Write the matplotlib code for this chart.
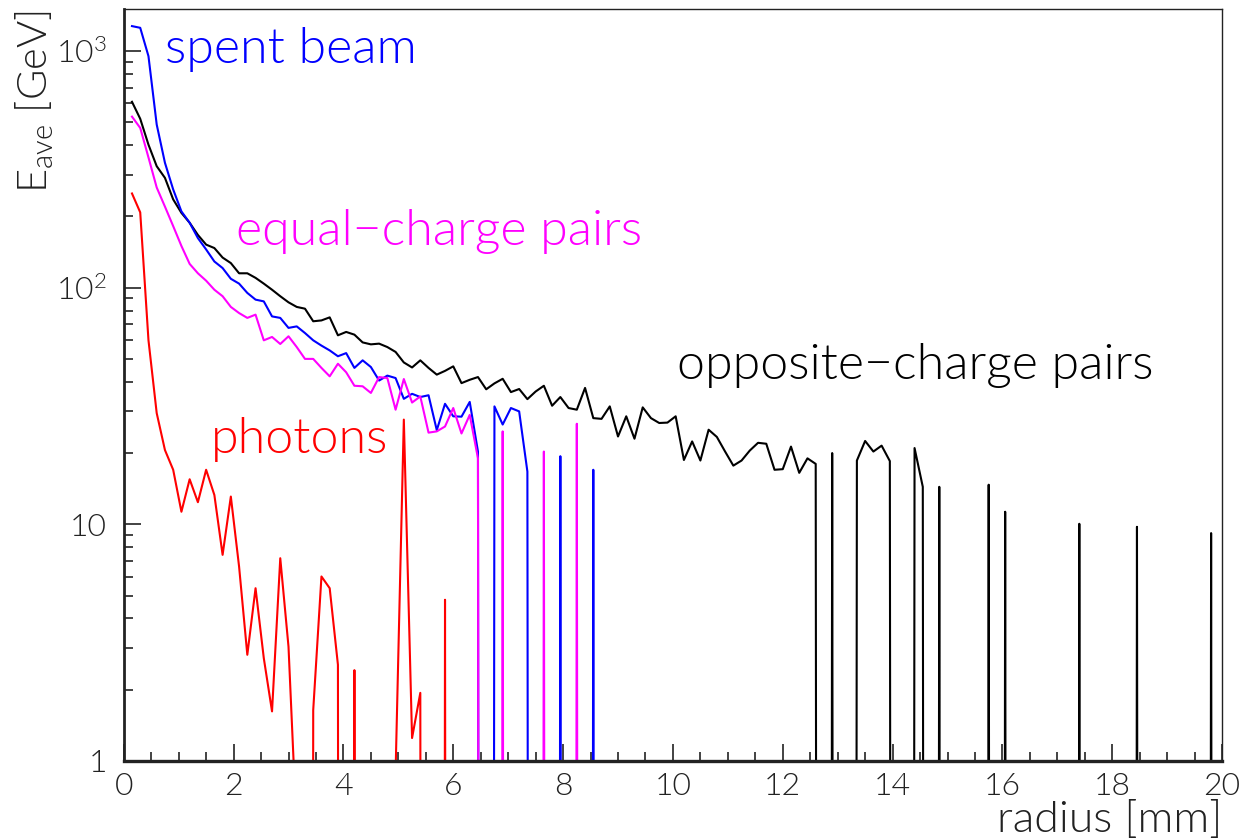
import numpy as np
import matplotlib
matplotlib.use("Agg")
import matplotlib.pyplot as plt
from matplotlib.ticker import FixedLocator, FixedFormatter, NullFormatter

# bin width of the radius histogram [mm], first bin centre at 0.15
bin_width = 0.15

# average energy per radius bin [GeV], 0 = empty bin
opposite_pairs = [610, 517, 402, 326, 291, 236, 207, 188, 167, 152,
                  147, 134, 127, 115, 115, 110, 104, 98, 92, 86.7,
                  82.9, 81.5, 72.1, 72.7, 74.9, 62.9, 65.0, 63.3, 58.7, 57.6,
                  58.0, 56.1, 53.5, 48.3, 46.0, 49.3, 45.8, 42.9, 44.5, 46.5,
                  39.5, 40.8, 41.9, 37.2, 39.4, 41.2, 36.2, 37.3, 33.8, 36.4,
                  38.5, 31.7, 34.5, 31.0, 30.5, 37.7, 28.1, 27.9, 31.5, 23.5,
                  28.6, 23.0, 31.2, 28.1, 26.8, 26.9, 28.6, 18.7, 22.4, 18.6,
                  25.1, 23.4, 20.3, 17.7, 18.6, 20.5, 22.1, 21.9, 17.0, 17.1,
                  21.3, 16.5, 19.0, 18.0, 0, 20.0, 0, 0, 18.6, 22.5,
                  20.3, 21.5, 18.5, 0, 0, 21.0, 14.4, 0, 14.4, 0,
                  0, 0, 0, 0, 14.7, 0, 11.3, 0, 0, 0,
                  0, 0, 0, 0, 0, 10.05, 0, 0, 0, 0,
                  0, 0, 9.76, 0, 0, 0, 0, 0, 0, 0,
                  0, 9.18, 0]
spent_beam = [1274, 1253, 951, 489, 337, 260, 210, 188, 162, 145,
              129, 121, 109, 104, 95, 89, 87.5, 75.6, 74.5, 67.6,
              68.6, 64.3, 59.9, 56.9, 54.3, 51.3, 52.9, 45.8, 49.3, 46.2,
              40.5, 42.5, 41.5, 33.9, 35.6, 34.5, 35.1, 25.0, 32.3, 28.6,
              28.5, 32.9, 20.3, 0, 31.5, 26.4, 31.0, 30.0, 16.7, 0,
              0, 0, 19.4, 0, 0, 0, 17.0, 0]
equal_pairs = [528, 473, 355, 265, 220, 182, 150, 126, 115, 107,
               98, 92, 82.9, 78.1, 74.5, 76.9, 59.9, 61.9, 57.8, 62.3,
               56.1, 50.0, 50.0, 45.8, 42.2, 47.7, 43.9, 38.5, 38.3, 35.9,
               41.9, 41.5, 30.5, 41.1, 32.7, 34.7, 24.4, 24.7, 25.9, 31.0,
               24.2, 29.0, 19.0, 0, 0, 24.7, 0, 0, 0, 0,
               20.3, 0, 0, 0, 26.6, 0]
photons = [250, 208, 60, 29.5, 20.6, 17.0, 11.3, 15.5, 12.4, 17.0,
           13.3, 7.43, 13.1, 6.63, 2.81, 5.37, 2.72, 1.62, 7.19, 3.04,
           0.5, 0, 1.64, 6.02, 5.37, 2.55, 0, 2.42, 0, 0,
           0, 0, 0.9, 27.7, 1.25, 1.94, 0, 0, 4.8, 0]


def radius(vals):
    return bin_width * np.arange(1, len(vals) + 1)


def no_zero(vals):
    # empty bins -> tiny value, so the log plot drops straight down like ROOT does
    v = np.array(vals, dtype=float)
    v[v <= 0] = 1e-30
    return v


plt.rcParams["font.family"] = ["Lato", "DejaVu Sans"]
plt.rcParams["font.weight"] = 300
plt.rcParams["mathtext.fontset"] = "custom"
plt.rcParams["mathtext.rm"] = "Lato:weight=300"
plt.rcParams["path.simplify"] = False

fig = plt.figure(figsize=(12.45, 8.39), dpi=100)
ax = fig.add_axes([0.0994, 0.093, 0.8822, 0.8963])

ax.plot(radius(opposite_pairs), no_zero(opposite_pairs), color="black", lw=1.5)
ax.plot(radius(spent_beam), no_zero(spent_beam), color="#0000ff", lw=1.5)
ax.plot(radius(equal_pairs), no_zero(equal_pairs), color="#ff00ff", lw=1.5)
ax.plot(radius(photons), no_zero(photons), color="#ff0000", lw=1.5)

ax.set_yscale("log")
ax.set_xlim(0, 20)
ax.set_ylim(1, 1505)

ax.xaxis.set_major_locator(FixedLocator(np.arange(0, 21, 2)))
ax.xaxis.set_minor_locator(FixedLocator(np.arange(0, 20.01, 0.5)))
ax.yaxis.set_major_locator(FixedLocator([1, 10, 100, 1000]))
ax.yaxis.set_major_formatter(FixedFormatter(["1", "10", r"$\mathregular{10^{2}}$", r"$\mathregular{10^{3}}$"]))
ax.yaxis.set_minor_locator(FixedLocator([m * d for d in (1, 10, 100) for m in range(2, 10)]))
ax.yaxis.set_minor_formatter(NullFormatter())

ax.tick_params(which="both", direction="in", top=False, right=False, width=1.2, color="#222222")
ax.tick_params(which="major", length=12, labelsize=23, labelcolor="#222222")
ax.tick_params(which="minor", length=6.5)
ax.tick_params(axis="x", which="major", pad=8)
ax.tick_params(axis="y", which="major", pad=12)

for side, w in (("bottom", 2.4), ("left", 2.0), ("top", 1.0), ("right", 1.0)):
    ax.spines[side].set_linewidth(w)
    ax.spines[side].set_color("#222222")

ax.text(0.75, 892, "spent beam", color="#0000ff", fontsize=36, ha="left", va="baseline")
ax.text(2.05, 151, "equal\u2212charge pairs", color="#ff00ff", fontsize=36, ha="left", va="baseline")
ax.text(10.07, 41.0, "opposite\u2212charge pairs", color="black", fontsize=36, ha="left", va="baseline")
ax.text(1.58, 20.1, "photons", color="#ff0000", fontsize=36, ha="left", va="baseline")

fig.text(1222 / 1245, 1 - 820 / 839, "radius [mm]", fontsize=32, color="#222222", ha="right", va="center")
fig.text(35 / 1245, 1 - 10 / 839, r"$\mathregular{E_{ave}}$ [GeV]", fontsize=30, color="#222222",
         rotation=90, ha="center", va="top")

fig.savefig("out.png", dpi=100)
